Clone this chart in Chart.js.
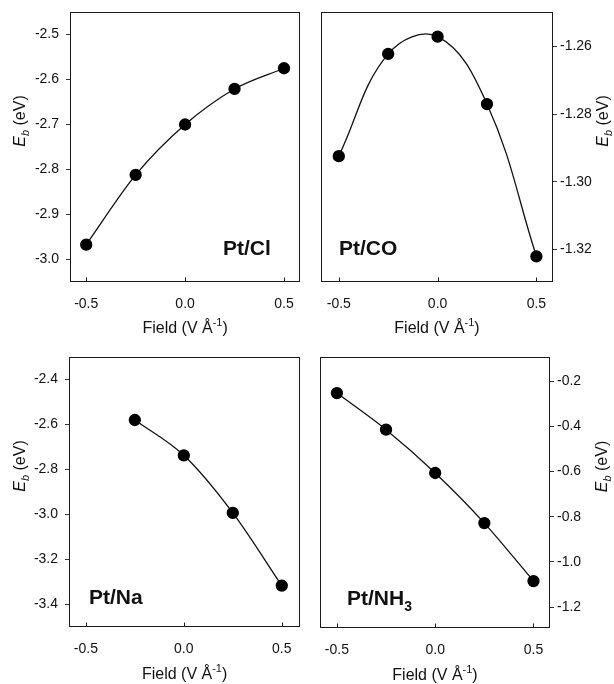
<!DOCTYPE html>
<html>
<head>
<meta charset="utf-8">
<script src="https://cdn.jsdelivr.net/npm/chart.js@4.4.1/dist/chart.umd.min.js"></script>
<style>
  html, body { margin: 0; padding: 0; background: #fff; }
  #wrap { position: relative; width: 614px; height: 684px; }
  .panel { position: absolute; width: 307px; height: 342px; }
</style>
</head>
<body>
<div id="wrap">
  <div class="panel" style="left:0;top:0"><canvas id="cl"></canvas></div>
  <div class="panel" style="left:307px;top:0"><canvas id="co"></canvas></div>
  <div class="panel" style="left:0;top:342px"><canvas id="na"></canvas></div>
  <div class="panel" style="left:307px;top:342px"><canvas id="nh3"></canvas></div>
</div>
<script>
// Binding energy vs applied field, four adsorbates on Pt
const fieldValues = [-0.5, -0.25, 0.0, 0.25, 0.5];
const naFieldValues = [-0.25, 0.0, 0.25, 0.5];

const ptClEb  = [-2.967, -2.812, -2.700, -2.621, -2.575];
const ptCoEb  = [-1.2924, -1.2622, -1.2571, -1.2770, -1.3220];
const ptNaEb  = [-2.580, -2.737, -2.993, -3.316];
const ptNh3Eb = [-0.252, -0.414, -0.606, -0.828, -1.085];

const fieldTicks = [-0.5, 0.0, 0.5];
const clTicks  = [-3.0, -2.9, -2.8, -2.7, -2.6, -2.5];
const coTicks  = [-1.32, -1.30, -1.28, -1.26];
const naTicks  = [-3.4, -3.2, -3.0, -2.8, -2.6, -2.4];
const nh3Ticks = [-1.2, -1.0, -0.8, -0.6, -0.4, -0.2];

Chart.defaults.font.family = '"Liberation Sans", Arial, Helvetica, sans-serif';
Chart.defaults.font.size = 14;
Chart.defaults.color = '#111';
Chart.defaults.animation = false;

const FONT = '"Liberation Sans", Arial, Helvetica, sans-serif';

// draw a run of [text, font, dy] pieces starting at x (baseline y)
function runWidth(ctx, parts) {
  let w = 0;
  parts.forEach(p => { ctx.font = p[1]; w += ctx.measureText(p[0]).width; });
  return w;
}
function drawRun(ctx, parts, x, y) {
  parts.forEach(p => {
    ctx.font = p[1];
    ctx.fillText(p[0], x, y + (p[2] || 0));
    x += ctx.measureText(p[0]).width;
  });
}

const framePlugin = {
  id: 'frame',
  afterDraw(chart, args, o) {
    const { ctx, chartArea: a } = chart;
    ctx.save();
    ctx.strokeStyle = '#1a1a1a';
    ctx.lineWidth = 1;
    const l = Math.round(a.left) + 0.5, t = Math.round(a.top) + 0.5;
    const r = Math.round(a.right) - 0.5, b = Math.round(a.bottom) - 0.5;
    ctx.strokeRect(l, t, r - l, b - t);

    // small inward ticks on the field axis
    const xs = chart.scales.x;
    fieldTicks.forEach(v => {
      const px = Math.round(xs.getPixelForValue(v)) + 0.5;
      ctx.beginPath();
      ctx.moveTo(px, b);
      ctx.lineTo(px, b - 4);
      ctx.stroke();
    });

    ctx.fillStyle = '#111';
    ctx.textBaseline = 'alphabetic';
    ctx.textAlign = 'left';

    // x title: Field (V Å^-1)
    const xt = [
      ['Field (V \u00C5', '16px ' + FONT, 0],
      ['-1', '11px ' + FONT, -7],
      [')', '16px ' + FONT, 0]
    ];
    const xw = runWidth(ctx, xt);
    drawRun(ctx, xt, (a.left + a.right) / 2 - xw / 2, a.bottom + o.xTitleDy);

    // y title: E_b (eV), rotated
    const yt = [
      ['E', 'italic 16px ' + FONT, 0],
      ['b', 'italic 11px ' + FONT, 4],
      [' (eV)', '16px ' + FONT, 0]
    ];
    const yw = runWidth(ctx, yt);
    const cx = o.yTitleSide === 'right' ? a.right + o.yTitleDx : a.left - o.yTitleDx;
    const cy = (a.top + a.bottom) / 2 - 26;
    ctx.save();
    ctx.translate(cx, cy);
    ctx.rotate(-Math.PI / 2);
    drawRun(ctx, yt, -yw / 2, 6);
    ctx.restore();

    // panel label
    drawRun(ctx, o.label, a.left + o.labelDx, a.bottom + o.labelDy);
    ctx.restore();
  }
};

// no automatic label padding: the plot box is placed by the layout padding alone
function noPad(s) {
  s.paddingTop = s.paddingBottom = s.paddingLeft = s.paddingRight = 0;
}

function makePanel(id, xs, ys, yTicks, decimals, opt) {
  return new Chart(document.getElementById(id), {
    type: 'line',
    data: {
      datasets: [{
        data: xs.map((x, i) => ({ x, y: ys[i] })),
        borderColor: '#111',
        borderWidth: 1.3,
        backgroundColor: '#000',
        pointBackgroundColor: '#000',
        pointBorderColor: '#000',
        pointRadius: 5.5,
        tension: 0.4,
        cubicInterpolationMode: opt.interp
      }]
    },
    options: {
      responsive: true,
      maintainAspectRatio: false,
      layout: { padding: opt.padding },
      plugins: {
        legend: { display: false },
        tooltip: { enabled: false },
        frame: opt.frame
      },
      scales: {
        x: {
          type: 'linear',
          min: opt.xMin, max: opt.xMax,
          grid: { display: false },
          border: { display: false },
          afterBuildTicks: (s) => { s.ticks = fieldTicks.map(v => ({ value: v })); },
          afterFit: (s) => { s.height = opt.xHeight; noPad(s); },
          ticks: { padding: 6, maxRotation: 0, callback: (v) => Number(v).toFixed(1) }
        },
        y: {
          position: opt.yPos,
          min: opt.yMin, max: opt.yMax,
          grid: { display: true, drawOnChartArea: false, drawTicks: true, tickLength: 4, color: '#333' },
          border: { display: false },
          afterBuildTicks: (s) => { s.ticks = yTicks.map(v => ({ value: v })); },
          afterFit: (s) => { s.width = opt.yWidth; noPad(s); },
          ticks: { padding: opt.yPos === 'left' ? 7 : 3, callback: (v) => Number(v).toFixed(decimals) }
        }
      }
    },
    plugins: [framePlugin]
  });
}

const boldLabel = (txt) => [[txt, 'bold 21px ' + FONT, 0]];

makePanel('cl', fieldValues, ptClEb, clTicks, 1, {
  interp: 'monotone',
  padding: { left: 0, right: 5, top: 12, bottom: 0 },
  xHeight: 60, yWidth: 70, yPos: 'left',
  xMin: -0.582, xMax: 0.582, yMin: -3.05, yMax: -2.45,
  frame: { xTitleDy: 51, yTitleSide: 'left', yTitleDx: 51, label: boldLabel('Pt/Cl'), labelDx: 153, labelDy: -27 }
});

makePanel('co', fieldValues, ptCoEb, coTicks, 2, {
  interp: 'default',
  padding: { left: 14, right: 0, top: 12, bottom: 0 },
  xHeight: 60, yWidth: 61, yPos: 'right',
  xMin: -0.59, xMax: 0.584, yMin: -1.3296, yMax: -1.2498,
  frame: { xTitleDy: 51, yTitleSide: 'right', yTitleDx: 49, label: boldLabel('Pt/CO'), labelDx: 18, labelDy: -27 }
});

makePanel('na', naFieldValues, ptNaEb, naTicks, 1, {
  interp: 'monotone',
  padding: { left: 0, right: 5, top: 15, bottom: 0 },
  xHeight: 57, yWidth: 69, yPos: 'left',
  xMin: -0.586, xMax: 0.594, yMin: -3.5, yMax: -2.3,
  frame: { xTitleDy: 52, yTitleSide: 'left', yTitleDx: 50, label: boldLabel('Pt/Na'), labelDx: 20, labelDy: -23 }
});

makePanel('nh3', fieldValues, ptNh3Eb, nh3Ticks, 1, {
  interp: 'monotone',
  padding: { left: 13, right: 0, top: 15, bottom: 0 },
  xHeight: 56, yWidth: 64, yPos: 'right',
  xMin: -0.586, xMax: 0.584, yMin: -1.293, yMax: -0.092,
  frame: {
    xTitleDy: 52, yTitleSide: 'right', yTitleDx: 51,
    label: [['Pt/NH', 'bold 21px ' + FONT, 0], ['3', 'bold 14px ' + FONT, 6]],
    labelDx: 27, labelDy: -23
  }
});
</script>
</body>
</html>
